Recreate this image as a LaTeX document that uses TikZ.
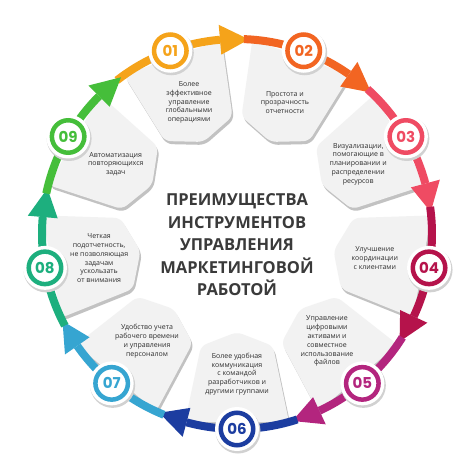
\documentclass[tikz,border=0pt]{standalone}
\usepackage{fontspec}
\setmainfont{Open Sans}
\newfontfamily\numfont{Poppins}

\definecolor{c1}{HTML}{F5A31A}
\definecolor{c2}{HTML}{F26522}
\definecolor{c3}{HTML}{EF4B63}
\definecolor{c4}{HTML}{B5134B}
\definecolor{c5}{HTML}{B3257E}
\definecolor{c6}{HTML}{1C3DA0}
\definecolor{c7}{HTML}{36A5D1}
\definecolor{c8}{HTML}{1DAF7E}
\definecolor{c9}{HTML}{45BE3A}
\definecolor{txtgrey}{HTML}{2E2E2E}
\definecolor{titlegrey}{HTML}{3A3A3A}

\tikzset{
	card/.style={fill=black!5, rounded corners=6pt},
	cardshade/.style={fill=black!24, rounded corners=6pt},
	cardtext/.style={draw=none, align=center, text=txtgrey, font=\fontsize{7}{8.8}\selectfont},
	halo/.style={circle, fill=white, minimum size=44pt, inner sep=0pt},
	ring/.style={circle, line width=4.5pt, minimum size=32.5pt, inner sep=0pt, font=\numfont\bfseries\fontsize{15}{15}\selectfont},
	flow/.style={line width=8pt}
}

\begin{document}
\begin{tikzpicture}[x=1pt, y=1pt]
\useasboundingbox (-237,-240) rectangle (237,234);
\fill[white] (-237,-240) rectangle (237,234);

% cards
\foreach \i/\ang/\txt in {
	1/110/{Более\\эффективное\\управление\\глобальными\\операциями},
	2/70/{Простота и\\прозрачность\\отчетности},
	3/30/{Визуализации,\\помогающие в\\планировании и\\распределении\\ресурсов},
	4/-10/{Улучшение\\координации\\с клиентами},
	5/-50/{Управление\\цифровыми\\активами и\\совместное\\использование\\файлов},
	6/-90/{Более удобная\\коммуникация\\с командой\\разработчиков и\\другими группами},
	7/-130/{Удобство учета\\рабочего времени\\и управления\\персоналом},
	8/-170/{Четкая\\подотчетность,\\не позволяющая\\задачам\\ускользать\\от внимания},
	9/150/{Автоматизация\\повторяющихся\\задач}}
{
	\fill[cardshade, xshift=1.5pt, yshift=-3pt, rotate=\ang-90] (0,98) -- (36,112) -- (52,188) -- (-52,188) -- (-36,112) -- cycle;
	\fill[card, rotate=\ang-90] (0,98) -- (36,112) -- (52,188) -- (-52,188) -- (-36,112) -- cycle;
	\path (\ang:140) node[cardtext] (txt\i) {\txt};
}

% arrows
\foreach \i/\ang in {1/110, 2/70, 3/30, 4/-10, 5/-50, 6/-90, 7/-130, 8/-170, 9/150}
{
	\coordinate (s\i) at (\ang+18:195);
	\coordinate (b\i) at (\ang:195);
	\draw[flow, c\i] (s\i) arc[start angle=\ang+18, end angle=\ang-15, radius=195];
	\fill[c\i] (\ang-15:180) -- (\ang-23.5:195) -- (\ang-15:210) -- cycle;
}

% badges
\foreach \i in {1,...,9}
{
	\fill[black!18] ([xshift=1pt, yshift=-2pt]b\i) circle (22.5);
	\node[halo] (h\i) at (b\i) {};
	\node[ring, draw=c\i, text=c\i] (num\i) at (b\i) {0\i};
}

\path (0,-11) node[draw=none, align=center, text=titlegrey, font=\bfseries\fontsize{16.5}{22.5}\selectfont] (title) {ПРЕИМУЩЕСТВА\\ИНСТРУМЕНТОВ\\УПРАВЛЕНИЯ\\МАРКЕТИНГОВОЙ\\РАБОТОЙ};

\end{tikzpicture}
\end{document}
